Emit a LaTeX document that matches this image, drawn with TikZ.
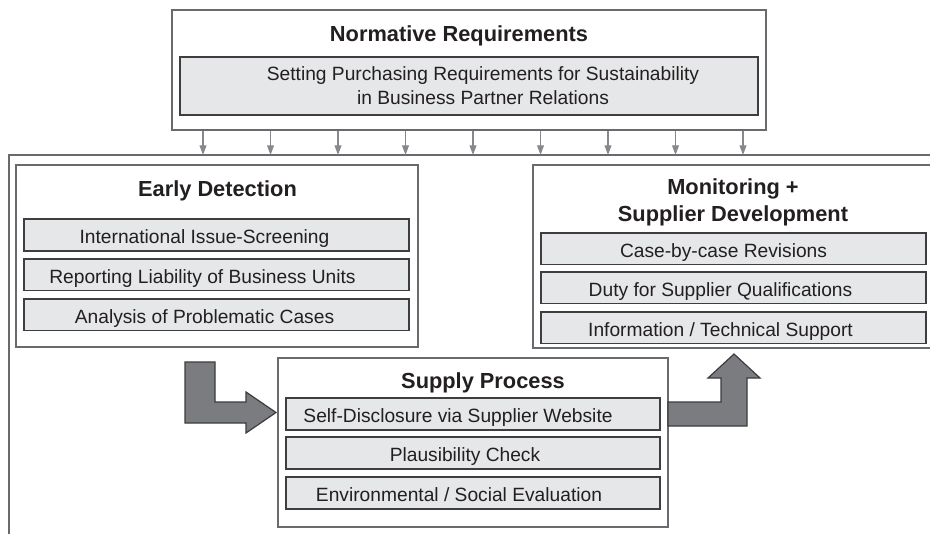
\documentclass[tikz,border=0pt]{standalone}
\usepackage{fontspec}
\setmainfont{Liberation Sans}
\definecolor{boxline}{RGB}{105,106,109}
\definecolor{itemline}{RGB}{62,62,64}
\definecolor{itemfill}{RGB}{230,231,232}
\definecolor{blockfill}{RGB}{123,124,128}
\definecolor{blockline}{RGB}{60,60,62}
\definecolor{arrowgray}{RGB}{135,136,139}
\definecolor{txt}{RGB}{35,31,32}
\usetikzlibrary{
	arrows.meta,
	positioning,
	calc
}
\tikzset{
  % boxes
	cstbox/.style     ={draw=boxline,line width=0.7pt,fill=white,inner sep=0pt},
	cstitem/.style    ={draw=itemline,fill=itemfill,line width=0.8pt,inner sep=0pt,text=txt,
	                    minimum height=15.8pt,text height=9.4pt,text depth=0.5pt,
	                    font=\fontsize{9.6}{12}\selectfont,
	                    execute at begin node={\hspace*{#1}}}, % #1 moves the text sideways
	cstitem/.default  =0pt,
	csttitle/.style   ={text=txt,align=center,font=\bfseries\fontsize{10.9}{13.5}\selectfont},
  % arrow
	cstarrow/.style   ={-{Triangle[length=4.8pt,width=3.4pt]},draw=arrowgray,line width=0.6pt},
	cstblock/.style   ={fill=blockfill,draw=blockline,line width=0.6pt,line join=miter},
	cstframe/.style   ={draw=boxline,line width=1pt}
}
\begin{document}
\begin{tikzpicture}[x=0.5pt,y=-0.5pt]
	\useasboundingbox (0,0) rectangle (930,534);
	% outer frame
	\coordinate (frame) at (9,155);
	\draw[cstframe] (9,540) -- (frame) -- (940,155);
	% normative requirements
	\node[cstbox,minimum width=297pt,minimum height=60pt] (norm) at (469,70) {};
	\node[csttitle] (normt) at (459,35.5) {Normative Requirements};
	\node[draw=itemline,fill=itemfill,line width=0.8pt,inner sep=0pt,text=txt,align=center,
		font=\fontsize{9.6}{12}\selectfont,minimum width=289pt,minimum height=29pt] (normi) at (469,86)
		{\hspace*{14pt}Setting Purchasing Requirements for Sustainability\\\hspace*{14pt}in Business Partner Relations};
	\foreach \x in {203,270.5,...,743}
		\draw[cstarrow] (norm.south -| \x,0) -- (frame -| \x,0);
	% early detection
	\node[cstbox,minimum width=201pt,minimum height=91pt] (early) at (217,256) {};
	\node[csttitle] (earlyt) at (217.5,190.5) {Early Detection};
	\node[cstitem=-12pt,minimum width=192.5pt] (early1) at (216.5,235) {International Issue-Screening};
	\node[cstitem=-14pt,minimum width=192.5pt] (early2) at (216.5,274.5) {Reporting Liability of Business Units};
	\node[cstitem=-12pt,minimum width=192.5pt] (early3) at (216.5,314.5) {Analysis of Problematic Cases};
	% monitoring
	\node[cstbox,minimum width=200.5pt,minimum height=91.5pt] (moni) at (733.5,256.5) {};
	\node[csttitle] (monit) at (733,202) {Monitoring +\\Supplier Development};
	\node[cstitem=-10pt,minimum width=192.5pt] (moni1) at (733.5,248.5) {Case-by-case Revisions};
	\node[cstitem=-13pt,minimum width=192.5pt] (moni2) at (733.5,287.5) {Duty for Supplier Qualifications};
	\node[cstitem=-13pt,minimum width=192.5pt] (moni3) at (733.5,327.5) {Information / Technical Support};
	% supply process
	\node[cstbox,minimum width=195pt,minimum height=84.5pt] (supp) at (473,442.5) {};
	\node[csttitle] (suppt) at (483,382.5) {Supply Process};
	\node[cstitem=-15pt,minimum width=187pt] (supp1) at (473,414) {Self-Disclosure via Supplier Website};
	\node[cstitem=-8pt,minimum width=187pt] (supp2) at (473,453) {Plausibility Check};
	\node[cstitem=-14pt,minimum width=187pt] (supp3) at (473,493) {Environmental / Social Evaluation};
	% block arrows
	\draw[cstblock] (185,362) -- (215,362) -- (215,402) -- (246,402) -- (246,392) -- (276,412.5)
		-- (246,433) -- (246,423) -- (185,423) -- cycle;
	\draw[cstblock] (668,402) -- (721,402) -- (721,378) -- (708,378) -- (734,354) -- (760,378)
		-- (747,378) -- (747,426) -- (668,426) -- cycle;
\end{tikzpicture}
\end{document}
